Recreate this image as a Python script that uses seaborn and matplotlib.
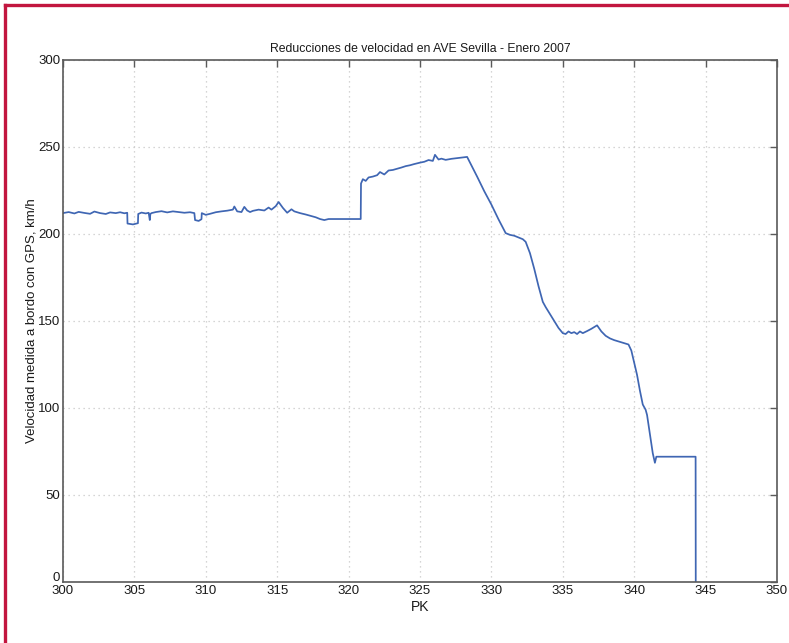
import matplotlib
matplotlib.use("Agg")
import matplotlib.pyplot as plt
from matplotlib.lines import Line2D
import seaborn as sns
import pandas as pd

# Punto kilométrico (PK) y velocidad medida con GPS (km/h)
pk = [
    300.0, 300.4, 300.8, 301.1, 301.5, 301.9, 302.2, 302.6, 303.0, 303.3,
    303.7, 304.0, 304.3, 304.5, 304.52, 304.9, 305.25, 305.27, 305.5, 305.8,
    306.0, 306.08, 306.12, 306.2, 306.5, 306.9, 307.3, 307.7, 308.1, 308.5,
    308.9, 309.2, 309.25, 309.5, 309.7, 309.72, 310.0, 310.3, 310.7, 311.1,
    311.5, 311.9, 312.0, 312.2, 312.5, 312.7, 312.9, 313.1, 313.3, 313.7,
    314.1, 314.4, 314.6, 314.9, 315.1, 315.4, 315.7, 316.0, 316.2, 316.6,
    317.0, 317.3, 317.7, 318.0, 318.3, 318.6, 320.85, 320.87, 321.0, 321.2,
    321.4, 321.7, 322.0, 322.2, 322.5, 322.8, 323.1, 323.4, 323.7, 324.0,
    324.3, 324.6, 325.0, 325.3, 325.6, 325.9, 326.05, 326.3, 326.5, 326.8,
    327.2, 327.6, 328.0, 328.3, 328.7, 329.0, 329.5, 330.0, 330.5, 331.0,
    331.3, 331.6, 331.9, 332.2, 332.4, 332.7, 333.0, 333.3, 333.6, 333.8,
    334.1, 334.4, 334.7, 335.0, 335.2, 335.4, 335.6, 335.8, 336.0, 336.2,
    336.4, 336.7, 337.0, 337.4, 337.7, 338.0, 338.3, 338.6, 339.0, 339.3,
    339.6, 339.8, 340.0, 340.2, 340.4, 340.6, 340.8, 340.9, 341.1, 341.3,
    341.45, 341.55, 344.3, 344.31,
]
velocidad = [
    212.0, 212.6, 211.8, 212.7, 212.1, 211.6, 212.9, 212.0, 211.5, 212.4,
    212.0, 212.5, 211.9, 212.2, 206.0, 205.5, 206.2, 211.5, 212.3, 211.8,
    212.2, 208.0, 211.5, 212.0, 212.6, 213.1, 212.4, 213.0, 212.6, 212.2,
    212.5, 212.0, 208.0, 207.5, 208.5, 212.0, 211.0, 211.6, 212.5, 213.0,
    213.4, 214.0, 215.8, 213.0, 212.6, 215.6, 213.5, 212.6, 213.3, 214.0,
    213.5, 215.2, 214.0, 216.0, 218.4, 215.0, 212.2, 214.2, 213.0, 212.0,
    211.2, 210.5, 209.6, 208.6, 208.0, 208.6, 208.6, 229.0, 231.5, 230.5,
    232.5, 233.0, 233.8, 235.6, 234.2, 236.5, 236.8, 237.5, 238.2, 239.0,
    239.5, 240.2, 241.0, 241.5, 242.5, 242.0, 245.5, 242.8, 243.3, 242.6,
    243.2, 243.6, 244.0, 244.3, 237.8, 233.0, 224.6, 216.9, 208.4, 200.5,
    199.5, 199.0, 198.0, 197.0, 195.5, 189.0, 180.0, 170.0, 161.0, 158.0,
    154.0, 150.0, 146.0, 143.0, 142.5, 144.0, 143.0, 143.6, 142.5, 144.0,
    143.0, 144.2, 145.5, 147.5, 144.0, 141.5, 140.0, 139.0, 138.0, 137.2,
    136.5, 133.0, 126.0, 119.0, 110.0, 102.0, 99.0, 96.0, 85.0, 74.0,
    68.5, 72.0, 72.0, 0.0,
]

xticks = [300, 305, 310, 315, 320, 325, 330, 335, 340, 345, 350]
yticks = [0, 50, 100, 150, 200, 250, 300]

df = pd.DataFrame({"PK": pk, "Velocidad": velocidad})

sns.set_theme(style="white")
plt.rcParams["font.family"] = ["Liberation Sans", "DejaVu Sans"]

fig = plt.figure(figsize=(7.89, 6.43), dpi=100)
fig.patch.set_facecolor("white")
ax = fig.add_axes([0.0798, 0.0949, 0.9050, 0.8118])

sns.lineplot(data=df, x="PK", y="Velocidad", ax=ax, sort=False,
             estimator=None, color="#3f66b3", linewidth=1.25)

ax.set_xlim(300, 350)
ax.set_ylim(0, 300)
ax.set_xticks(xticks)
ax.set_yticks(yticks)
ax.set_xticklabels([str(t) for t in xticks])
ax.set_yticklabels([str(t) for t in yticks])

ax.grid(True, color="#c8c8c8", linestyle=(0, (1, 3)), linewidth=0.9)
for s in ax.spines.values():
    s.set_color("#5a5a5a")
    s.set_linewidth(1.2)
ax.tick_params(direction="in", length=5, width=1.0, color="#5a5a5a",
               labelsize=9.5, labelcolor="#1a1a1a",
               top=True, right=True, pad=2)

# el "0" del eje vertical queda algo por encima del eje horizontal
from matplotlib.transforms import ScaledTranslation
ylabels = ax.get_yticklabels()
ylabels[0].set_transform(ylabels[0].get_transform() +
                         ScaledTranslation(0, 4 / 72, fig.dpi_scale_trans))

ax.set_title("Reducciones de velocidad en AVE Sevilla - Enero 2007",
             fontsize=8.8, color="#1a1a1a", pad=6)
ax.set_xlabel("PK", fontsize=10, color="#1a1a1a", labelpad=2)
ax.set_ylabel("Velocidad medida a bordo con GPS, km/h", fontsize=9.5,
              color="#1a1a1a", labelpad=0)

# marco de la página
frame_color = "#c2163f"
fig.add_artist(Line2D([0.0063, 1.0], [0.9922, 0.9922],
                      transform=fig.transFigure, color=frame_color,
                      linewidth=2.4, solid_capstyle="projecting"))
fig.add_artist(Line2D([0.0063, 0.0063], [0.0, 0.9922],
                      transform=fig.transFigure, color=frame_color,
                      linewidth=2.4, solid_capstyle="projecting"))

fig.savefig("out.png", dpi=100, facecolor="white")
